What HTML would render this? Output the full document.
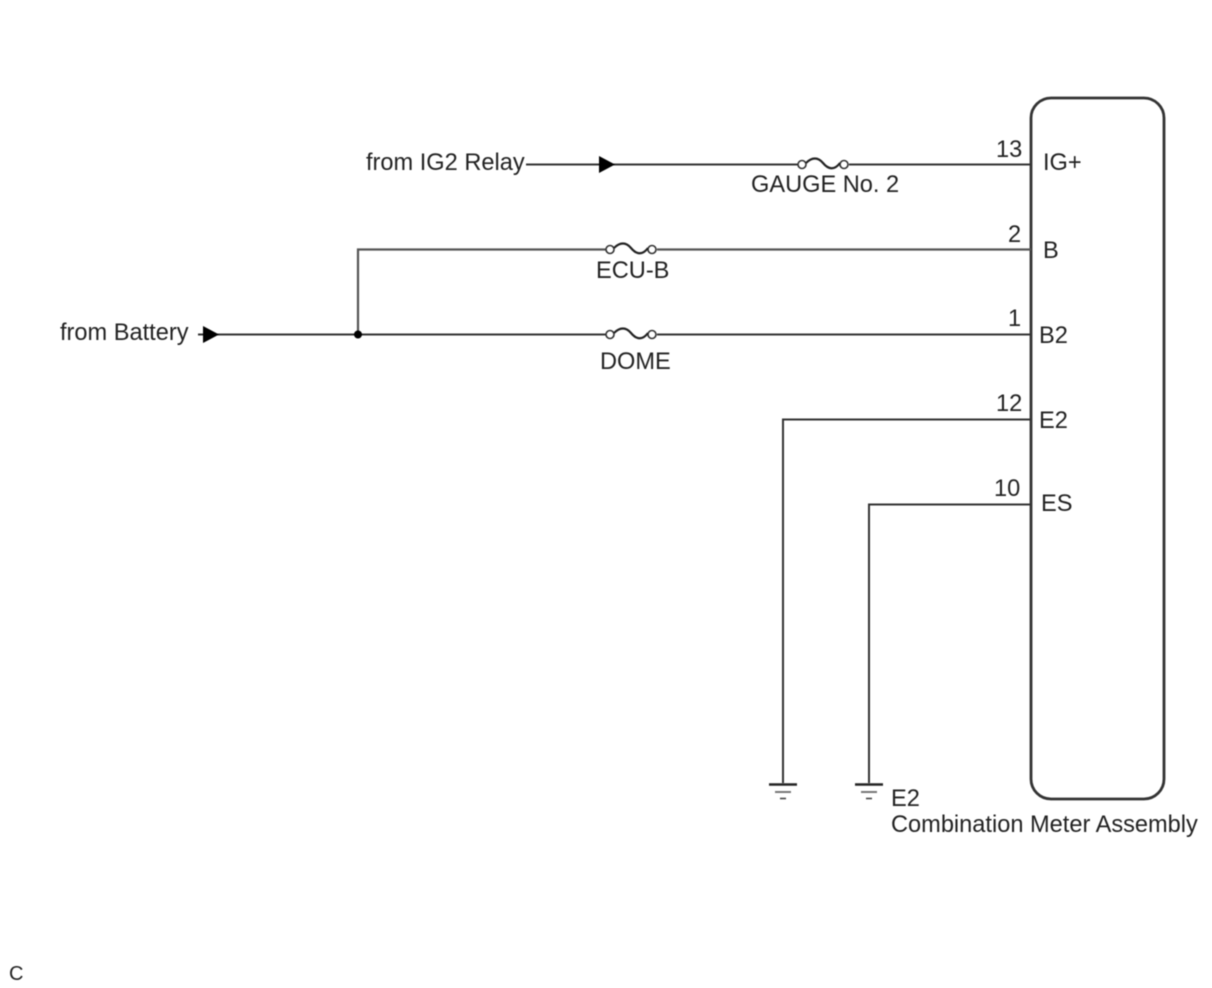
<!DOCTYPE html>
<html>
<head>
<meta charset="utf-8">
<style>
html,body{margin:0;padding:0;background:#fff;width:1212px;height:988px;overflow:hidden}
svg{display:block;filter:blur(0.45px)}
text{font-family:"Liberation Sans",Arial,sans-serif;font-size:23.6px;fill:#222}
</style>
</head>
<body>
<svg width="1212" height="988" viewBox="0 0 1212 988" xmlns="http://www.w3.org/2000/svg">
<g fill="none" stroke="#333" stroke-width="2">
<rect x="1031" y="98" width="133" height="701" rx="20" ry="20" stroke-width="2.8"/>
<path d="M526 164.500H798M849 164.500H1031"/>
<path d="M358 334V249.500H606M657 249.500H1031" stroke="#555" stroke-width="2.2"/>
<path d="M198 334.500H606M657 334.500H1031"/>
<path d="M1031 419.500H783V783"/>
<path d="M1031 504.500H869V783"/>
<circle cx="802" cy="164.500" r="4" stroke-width="1.6"/>
<circle cx="844" cy="164.500" r="4" stroke-width="1.6"/>
<path d="M806 163C812 157 818 157 823 163S834 171 840 163" stroke="#222" stroke-width="2.2"/>
<circle cx="610" cy="249.500" r="4" stroke-width="1.6"/>
<circle cx="652" cy="249.500" r="4" stroke-width="1.6"/>
<path d="M614 248C620 242 626 242 631 248S642 256 648 248" stroke="#222" stroke-width="2.2"/>
<circle cx="610" cy="334.500" r="4" stroke-width="1.6"/>
<circle cx="652" cy="334.500" r="4" stroke-width="1.6"/>
<path d="M614 333C620 327 626 327 631 333S642 341 648 333" stroke="#222" stroke-width="2.2"/>
<path d="M769 784.500H797" stroke="#222" stroke-width="2.4"/>
<path d="M775 792H791" stroke="#777" stroke-width="2"/>
<path d="M780 798.500H786" stroke="#444" stroke-width="1.6"/>
<path d="M855 784.500H883" stroke="#222" stroke-width="2.4"/>
<path d="M861 792H877" stroke="#777" stroke-width="2"/>
<path d="M866 798.500H872" stroke="#444" stroke-width="1.6"/>
</g>
<polygon points="599,156 615,164.500 599,173" fill="#000"/>
<polygon points="203,326 219,334.500 203,343" fill="#000"/>
<circle cx="358" cy="334.500" r="4" fill="#000"/>
<text x="366" y="170">from IG2 Relay</text>
<text x="60" y="340">from Battery</text>
<text x="751" y="192">GAUGE No. 2</text>
<text x="596" y="278">ECU-B</text>
<text x="600" y="369">DOME</text>
<text x="996" y="157">13</text>
<text x="1008" y="242">2</text>
<text x="1008" y="326">1</text>
<text x="996" y="411">12</text>
<text x="994" y="496">10</text>
<text x="1043" y="170">IG+</text>
<text x="1043" y="258">B</text>
<text x="1039" y="343">B2</text>
<text x="1039" y="428">E2</text>
<text x="1041" y="511">ES</text>
<text x="891" y="806">E2</text>
<text x="891" y="832">Combination Meter Assembly</text>
<text x="9" y="980" style="font-size:20px">C</text>
</svg>
</body>
</html>
